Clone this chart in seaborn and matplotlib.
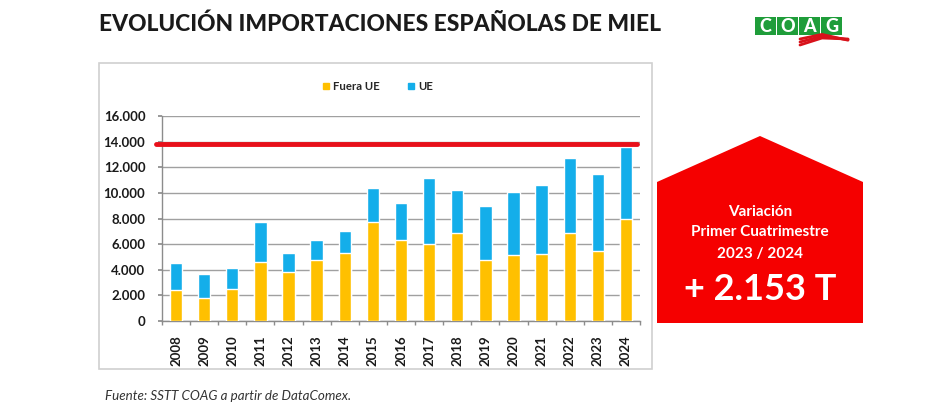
import matplotlib
matplotlib.use("Agg")
import matplotlib.pyplot as plt
import seaborn as sns
import numpy as np
from matplotlib.patches import Rectangle, Polygon
from matplotlib.lines import Line2D

# ---- data ----
years = ['2008', '2009', '2010', '2011', '2012', '2013', '2014', '2015', '2016',
         '2017', '2018', '2019', '2020', '2021', '2022', '2023', '2024']
fuera_ue = [2450, 1800, 2500, 4600, 3800, 4800, 5300, 7700, 6300,
            6000, 6900, 4750, 5150, 5250, 6850, 5500, 7950]
ue = [2050, 1900, 1600, 3100, 1500, 1500, 1700, 2700, 2900,
      5150, 3300, 4200, 4900, 5400, 5900, 5950, 5650]
ref_level = 13800
yticks = [0, 2000, 4000, 6000, 8000, 10000, 12000, 14000, 16000]
ytick_labels = ['0', '2.000', '4.000', '6.000', '8.000', '10.000', '12.000', '14.000', '16.000']
series_names = ['Fuera UE', 'UE']
title = 'EVOLUCIÓN IMPORTACIONES ESPAÑOLAS DE MIEL'
box_lines = ['Variación', 'Primer Cuatrimestre', '2023 / 2024']
box_value = '+ 2.153 T'
source = 'Fuente: SSTT COAG a partir de DataComex.'

total = [f + u for f, u in zip(fuera_ue, ue)]

ORANGE = '#FFC000'
BLUE = '#14AEEA'
RED = '#F50000'
GRID = '#A0A0A0'

sns.set_theme(style='white')
plt.rcParams['font.family'] = ['Lato', 'DejaVu Sans']

W, H = 950, 417
fig = plt.figure(figsize=(W / 100, H / 100), dpi=100)

def fx(px):
    return px / W

def fy(py):
    return 1 - py / H

# chart frame
fig.patches.append(Rectangle((fx(99), fy(369)), fx(652) - fx(99), fy(63) - fy(369),
                             transform=fig.transFigure, fill=False,
                             edgecolor='#D0D0D0', lw=1.2, zorder=0))

ax = fig.add_axes([fx(162), fy(321), fx(640) - fx(162), fy(116) - fy(321)])

sns.barplot(x=years, y=total, color=BLUE, saturation=1, width=0.44, ax=ax, zorder=2)
sns.barplot(x=years, y=fuera_ue, color=ORANGE, saturation=1, width=0.44, ax=ax, zorder=3)

ax.set_ylim(0, 16000)
ax.set_xlim(-0.5, len(years) - 0.5)
ax.set_yticks(yticks)
ax.set_yticklabels(ytick_labels, fontsize=9.5, fontweight='bold', color='#1a1a1a')
ax.set_xticks(range(len(years)))
ax.set_xticklabels(years, rotation=90, fontsize=9.5, fontweight='bold', color='#1a1a1a')
ax.set_xlabel('')
ax.set_ylabel('')
ax.set_axisbelow(True)
ax.yaxis.grid(True, color=GRID, lw=1)
ax.xaxis.grid(False)
for s in ['top', 'right']:
    ax.spines[s].set_visible(False)
for s in ['left', 'bottom']:
    ax.spines[s].set_color('#8C8C8C')
    ax.spines[s].set_linewidth(1)
ax.tick_params(axis='y', length=3, pad=9, color='#8C8C8C', left=True)
ax.tick_params(axis='x', which='major', length=0, pad=10)
ax.set_xticks(np.arange(-0.5, len(years), 1), minor=True)
ax.tick_params(axis='x', which='minor', length=3, color='#8C8C8C', bottom=True)

ax.axhline(ref_level, xmin=-0.012, xmax=0.994, color='#E8101A', lw=3.5, clip_on=False, zorder=4)

# legend
handles = [Line2D([], [], marker='s', ls='', color=ORANGE, markersize=5),
           Line2D([], [], marker='s', ls='', color=BLUE, markersize=5)]
fig.legend(handles, series_names, loc='center', bbox_to_anchor=(fx(376), fy(86)),
           ncol=2, frameon=False, handletextpad=0.0, columnspacing=2.2,
           handlelength=1.2, prop={'weight': 'bold', 'size': 8.2})

# title
fig.text(fx(380), fy(24), title, ha='center', va='center', fontsize=16.4,
         fontweight='black', color='#1a1a1a')

# red house
house = [(fx(657), fy(182)), (fx(760), fy(136)), (fx(863), fy(182)),
         (fx(863), fy(323)), (fx(657), fy(323))]
fig.patches.append(Polygon(house, closed=True, transform=fig.transFigure,
                           facecolor=RED, edgecolor='none'))
for txt, py in zip(box_lines, [212, 232, 254]):
    fig.text(fx(760), fy(py), txt, ha='center', va='center', color='white',
             fontsize=11, fontweight='bold')
fig.text(fx(760), fy(289), box_value, ha='center', va='center', color='white',
         fontsize=26, fontweight='bold')

# logo
for i, ch in enumerate('COAG'):
    x0 = 755 + i * 22
    fig.patches.append(Rectangle((fx(x0), fy(35)), fx(21), fy(17) - fy(35),
                                 transform=fig.transFigure, facecolor='#1F9D3A',
                                 edgecolor='none'))
    fig.text(fx(x0 + 10.5), fy(26), ch, ha='center', va='center', color='white',
             fontsize=13, fontweight='black')
for dy in [0, 3, 6]:
    fig.lines.append(Line2D([fx(800), fx(822), fx(848)],
                            [fy(45 - dy), fy(38 - dy * 0.6), fy(39 + dy * 0.2)],
                            transform=fig.transFigure, color='#D8121B', lw=2))

# source
fig.text(fx(105), fy(396), source, ha='left', va='center', fontsize=9.6,
         style='italic', color='#333333')

fig.savefig('out.png', dpi=100)
